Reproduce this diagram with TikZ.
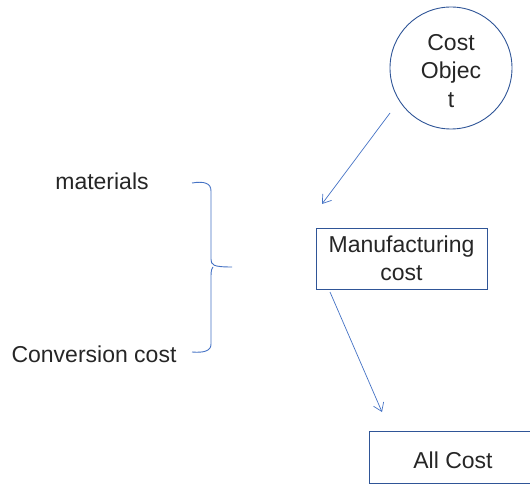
\documentclass[tikz,border=0pt]{standalone}
\usepackage{fontspec}
\setmainfont{Liberation Sans}
\usetikzlibrary{arrows.meta}
\definecolor{edgeblue}{HTML}{2F5597}
\definecolor{linkblue}{HTML}{4472C4}
\begin{document}
\begin{tikzpicture}[x=1pt,y=-1pt,
  every node/.style={font=\fontsize{23}{28.5}\selectfont, text=black!85, inner sep=0pt},
  shapebox/.style={draw=edgeblue, line width=0.9pt, align=center},
  link/.style={draw=linkblue, line width=0.7pt, -{Straight Barb[length=8pt,width=11pt,line width=0.7pt]}},
  bracket/.style={draw=linkblue, line width=0.9pt}]
  \useasboundingbox (0,0) rectangle (530,484);
  \clip (0,0) rectangle (530,484);

  % cost object
  \node[shapebox, circle, minimum size=122pt] (obj) at (451,68) {};
  \node[align=center] (objtxt) at (451,71) {Cost\\Objec\\t};

  % boxes
  \node[shapebox, rectangle, minimum width=171pt, minimum height=61pt] (mfg) at (401.5,258.5) {Manufacturing\\cost};
  \node[shapebox, rectangle, minimum width=168pt, minimum height=52pt] (all) at (453,457) {};
  \node (alltxt) at (453,460) {All Cost};

  % labels
  \node (mat) at (102,181) {materials};
  \node (conv) at (94,354) {Conversion cost};

  % connectors
  \coordinate (a1s) at (390,113);
  \coordinate (a1e) at (322,204);
  \coordinate (a2s) at (330,292);
  \coordinate (a2e) at (382,412);
  \draw[link] (a1s) -- (a1e);
  \draw[link] (a2s) -- (a2e);

  % brace joining the two cost items
  \draw[bracket] (192,183) .. controls (204,181) and (211,183) .. (211,191)
    -- (211,259) .. controls (211,265) and (213,267) .. (232,267);
  \draw[bracket] (213,267) .. controls (212,268) and (211,270) .. (211,276)
    -- (211,344) .. controls (211,351) and (204,353) .. (192,352);
\end{tikzpicture}
\end{document}
